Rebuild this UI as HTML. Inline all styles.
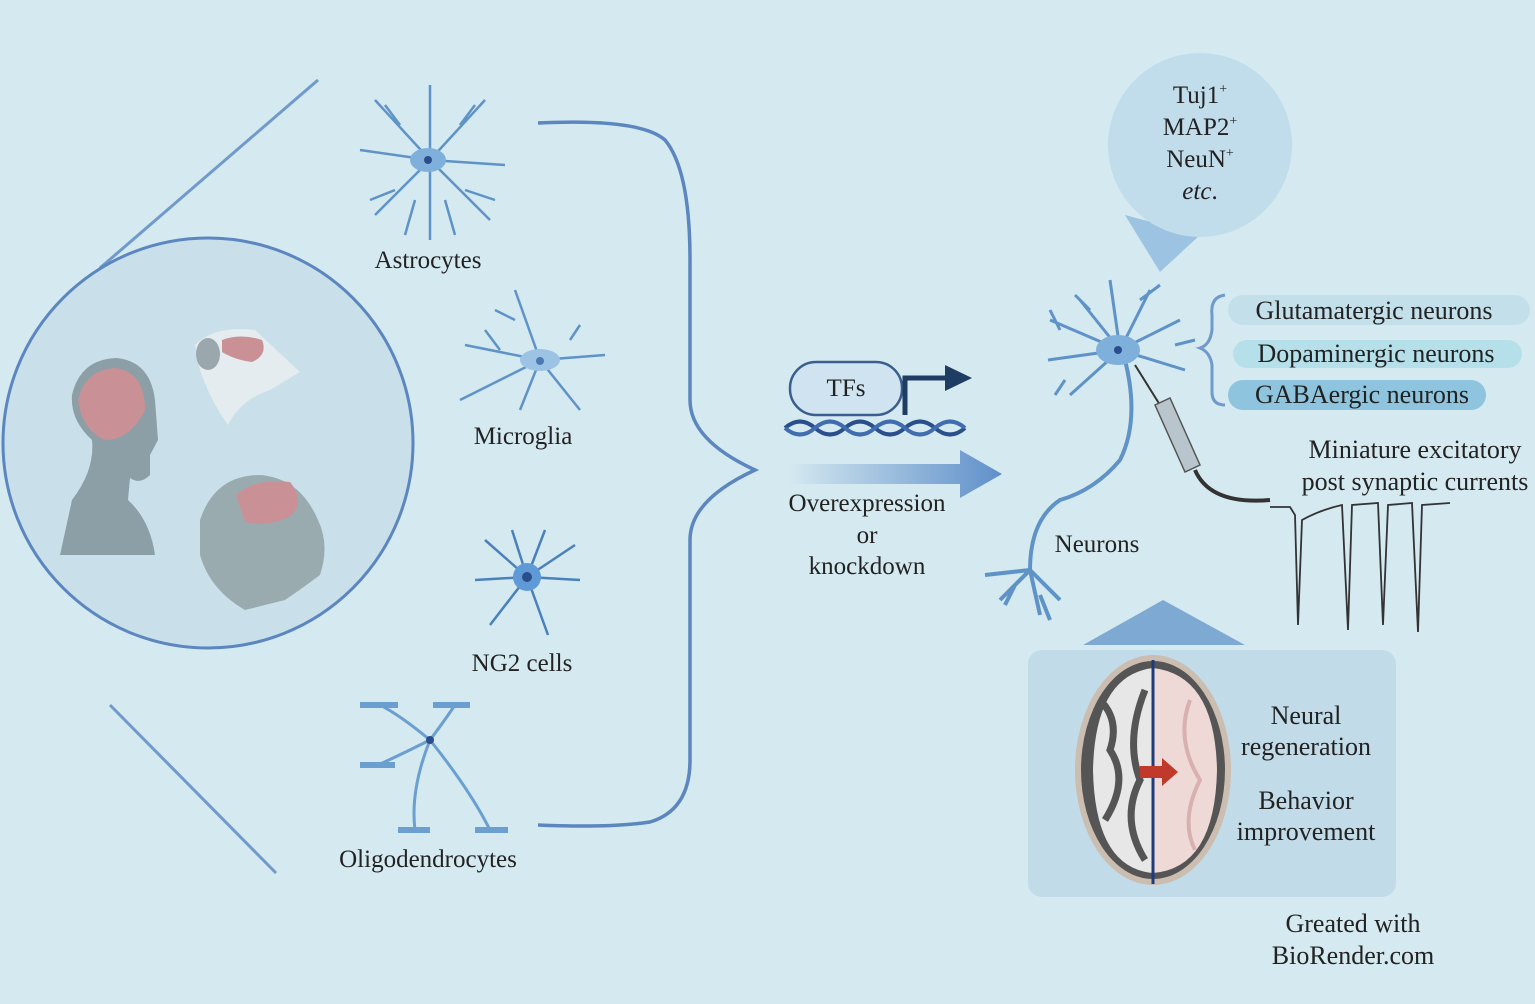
<!DOCTYPE html>
<html><head><meta charset="utf-8"><style>
html,body{margin:0;padding:0;background:#d5e9f0;}
svg{display:block;}
text{font-family:"Liberation Serif",serif;fill:#222;}
</style></head><body>
<svg width="1535" height="1004" viewBox="0 0 1535 1004" xmlns="http://www.w3.org/2000/svg">
<defs>
<linearGradient id="ar" x1="0" x2="1"><stop offset="0" stop-color="#d5e9f0"/><stop offset="1" stop-color="#5f8fca"/></linearGradient>
</defs>
<rect width="1535" height="1004" fill="#d5e9f0"/>
<line x1="318" y1="80" x2="100" y2="268" stroke="#6f9acb" stroke-width="3"/>
<line x1="110" y1="705" x2="276" y2="873" stroke="#6f9acb" stroke-width="3"/>
<circle cx="208" cy="443" r="205" fill="#c9e0ea" stroke="#5b86bf" stroke-width="3"/>
<!-- human -->
<path d="M60 555 L72 500 Q95 470 92 440 Q70 420 72 395 Q80 360 115 358 Q150 360 155 400 L158 440 L150 455 L150 475 Q140 485 130 478 L128 500 Q150 520 155 555 Z" fill="#8c9fa6"/>
<path d="M78 400 Q85 370 115 368 Q145 372 145 410 Q130 440 105 440 Q82 430 78 400Z" fill="#c99196"/>
<!-- rat -->
<path d="M195 345 Q215 325 255 330 L300 372 L270 390 Q240 400 228 425 Q210 400 200 370Z" fill="#e4ecef"/>
<ellipse cx="208" cy="354" rx="12" ry="16" fill="#9aa8ad"/>
<path d="M222 340 Q240 333 262 340 Q268 355 252 362 Q235 360 222 352Z" fill="#c99196"/>
<!-- monkey -->
<path d="M200 520 Q215 475 260 475 Q300 478 318 520 Q330 545 320 575 Q300 590 285 600 L245 610 Q210 590 200 555Z" fill="#9aabb0"/>
<path d="M236 495 Q255 478 290 482 Q305 500 292 515 Q270 528 245 522Z" fill="#c99196"/>
<!-- brace -->
<path d="M538 123 Q640 118 665 140 Q690 170 690 260 L690 400 Q690 440 755 470 Q690 500 690 540 L690 760 Q690 810 650 822 Q610 828 538 825" fill="none" stroke="#5b86bf" stroke-width="3.5"/>
<!-- astrocyte -->
<g stroke="#5f93c7" stroke-width="2.5" fill="none">
<path d="M430 160 L375 100 M430 160 L430 85 M430 160 L485 100 M430 160 L360 150 M430 160 L505 165 M430 160 L375 215 M430 160 L430 240 M430 160 L490 220 M400 125 L385 105 M460 125 L475 105 M395 190 L370 200 M465 190 L495 200 M415 200 L405 235 M445 200 L455 235"/>
</g>
<ellipse cx="428" cy="160" rx="18" ry="12" fill="#7fb0dc"/><circle cx="428" cy="160" r="4" fill="#2b4d8c"/>
<text x="428" y="268" font-size="25" text-anchor="middle">Astrocytes</text>
<!-- microglia -->
<g stroke="#5f93c7" stroke-width="2.5" fill="none">
<path d="M540 360 L515 290 M540 360 L465 345 M540 360 L460 400 M540 360 L605 355 M540 360 L580 410 M540 360 L520 410 M515 320 L495 310 M500 350 L485 330 M570 340 L580 325"/>
</g>
<ellipse cx="540" cy="360" rx="20" ry="11" fill="#9cc3e4"/><circle cx="540" cy="361" r="4" fill="#4a7ab0"/>
<text x="523" y="444" font-size="25" text-anchor="middle">Microglia</text>
<!-- NG2 -->
<g stroke="#4a80bc" stroke-width="2.5" fill="none">
<path d="M527 577 L485 540 M527 577 L512 530 M527 577 L545 530 M527 577 L575 545 M527 577 L580 580 M527 577 L548 635 M527 577 L490 625 M527 577 L475 580"/>
</g>
<circle cx="527" cy="577" r="14" fill="#5f9ad6"/><circle cx="527" cy="577" r="5" fill="#2b4d8c"/>
<text x="522" y="671" font-size="25" text-anchor="middle">NG2 cells</text>
<!-- oligodendrocyte -->
<g stroke="#6a9fd0" stroke-width="3" fill="none">
<path d="M430 740 Q400 715 380 705 M430 740 Q445 720 455 705 M430 740 Q400 755 378 765 M430 740 Q410 790 415 830 M430 740 Q470 790 490 830"/>
<path d="M360 705 L398 705 M433 705 L470 705 M360 765 L395 765 M398 830 L430 830 M475 830 L508 830" stroke-width="6"/>
</g>
<circle cx="430" cy="740" r="4" fill="#2b4d8c"/>
<text x="428" y="867" font-size="25" text-anchor="middle">Oligodendrocytes</text>
<!-- TFs -->
<rect x="790" y="362" width="112" height="53" rx="26" fill="#cfe4f0" stroke="#3a5f8f" stroke-width="2.5"/>
<text x="846" y="396" font-size="25" text-anchor="middle">TFs</text>
<path d="M905 415 L905 378 L950 378" fill="none" stroke="#1f3c63" stroke-width="5"/>
<path d="M945 365 L972 378 L945 391Z" fill="#1f3c63"/>
<path d="M785 428 Q800 415 815 428 T845 428 T875 428 T905 428 T935 428 T965 428" fill="none" stroke="#2a4f8c" stroke-width="4"/>
<path d="M785 428 Q800 441 815 428 T845 428 T875 428 T905 428 T935 428 T965 428" fill="none" stroke="#3f6db0" stroke-width="4"/>
<path d="M788 464 L960 464 L960 450 L1002 474 L960 498 L960 484 L788 484Z" fill="url(#ar)"/>
<text x="867" y="511" font-size="25" text-anchor="middle">Overexpression</text>
<text x="867" y="543" font-size="25" text-anchor="middle">or</text>
<text x="867" y="574" font-size="25" text-anchor="middle">knockdown</text>
<!-- bubble -->
<path d="M1125 215 L1200 235 L1160 272Z" fill="#9cc3e1"/>
<circle cx="1200" cy="145" r="92" fill="#c1dcea"/>
<text x="1200" y="103" font-size="25" text-anchor="middle">Tuj1<tspan font-size="14" dy="-10">+</tspan></text>
<text x="1200" y="135" font-size="25" text-anchor="middle">MAP2<tspan font-size="14" dy="-10">+</tspan></text>
<text x="1200" y="167" font-size="25" text-anchor="middle">NeuN<tspan font-size="14" dy="-10">+</tspan></text>
<text x="1200" y="199" font-size="25" text-anchor="middle" font-style="italic">etc<tspan font-style="normal">.</tspan></text>
<!-- neuron -->
<g stroke="#5f93c7" stroke-width="3" fill="none">
<path d="M1120 350 L1080 300 M1120 350 L1050 320 M1120 350 L1048 360 M1120 350 L1070 395 M1120 350 L1110 280 M1120 350 L1150 290 M1120 350 L1180 320 M1120 350 L1185 370 M1090 310 L1075 295 M1140 300 L1160 285 M1060 330 L1050 310 M1065 380 L1055 395 M1175 345 L1195 340"/>
<path d="M1125 360 Q1140 420 1120 460 Q1095 490 1060 500 Q1030 520 1030 570 L1000 600 M1030 570 L985 575 M1030 570 L1040 615 M1030 570 L1060 600 M1015 585 L1005 605 M1040 595 L1050 620" stroke-width="4"/>
</g>
<ellipse cx="1118" cy="350" rx="22" ry="15" fill="#7fb0dc"/><circle cx="1118" cy="350" r="4" fill="#2b4d8c"/>
<text x="1097" y="552" font-size="25" text-anchor="middle">Neurons</text>
<!-- electrode -->
<line x1="1135" y1="365" x2="1160" y2="405" stroke="#333" stroke-width="2"/>
<path d="M1155 405 L1170 398 L1200 465 L1185 472Z" fill="#b9c5cc" stroke="#555" stroke-width="1.5"/>
<path d="M1195 470 Q1210 505 1270 500" fill="none" stroke="#333" stroke-width="4"/>
<path d="M1225 295 Q1210 297 1212 315 L1212 330 Q1210 345 1200 348 Q1210 352 1212 365 L1212 392 Q1212 405 1225 405" fill="none" stroke="#6f9acb" stroke-width="3"/>
<rect x="1228" y="295" width="302" height="30" rx="15" fill="#c3dfea"/>
<rect x="1233" y="340" width="289" height="28" rx="14" fill="#b5e0ea"/>
<rect x="1228" y="380" width="258" height="30" rx="15" fill="#8ec4de"/>
<text x="1374" y="319" font-size="26" text-anchor="middle">Glutamatergic neurons</text>
<text x="1376" y="362" font-size="26" text-anchor="middle">Dopaminergic neurons</text>
<text x="1362" y="403" font-size="26" text-anchor="middle">GABAergic neurons</text>
<text x="1415" y="458" font-size="26" text-anchor="middle">Miniature excitatory</text>
<text x="1415" y="490" font-size="26" text-anchor="middle">post synaptic currents</text>
<path d="M1270 507 L1290 507 L1295 515 L1298 625 L1302 520 Q1320 510 1342 505 L1348 630 L1352 505 L1378 503 L1383 625 L1388 505 L1412 503 L1418 632 L1422 505 L1450 503" fill="none" stroke="#333" stroke-width="1.8"/>
<!-- triangle & box -->
<path d="M1083 645 L1163 600 L1245 645Z" fill="#7ea9d2"/>
<rect x="1028" y="650" width="368" height="247" rx="14" fill="#c2dbe8"/>
<ellipse cx="1153" cy="770" rx="78" ry="115" fill="#cbbdb0"/>
<ellipse cx="1153" cy="770" rx="72" ry="109" fill="#555"/>
<path d="M1153 668 Q1215 675 1217 770 Q1215 868 1153 873Z" fill="#efd9d7"/>
<path d="M1153 668 Q1095 675 1093 770 Q1095 868 1153 873Z" fill="#e7e7e7"/>
<path d="M1100 700 Q1120 720 1110 750 Q1130 780 1105 820 M1145 690 Q1125 740 1140 780 Q1120 820 1145 860" stroke="#555" stroke-width="7" fill="none"/>
<path d="M1190 700 Q1175 740 1200 780 Q1180 820 1195 850" stroke="#d8b0b0" stroke-width="4" fill="none"/>
<line x1="1153" y1="660" x2="1153" y2="884" stroke="#1f3c7a" stroke-width="3"/>
<path d="M1140 766 L1162 766 L1162 758 L1178 772 L1162 786 L1162 778 L1140 778Z" fill="#c0392b"/>
<text x="1306" y="724" font-size="26" text-anchor="middle">Neural</text>
<text x="1306" y="755" font-size="26" text-anchor="middle">regeneration</text>
<text x="1306" y="809" font-size="26" text-anchor="middle">Behavior</text>
<text x="1306" y="840" font-size="26" text-anchor="middle">improvement</text>
<text x="1353" y="932" font-size="26" text-anchor="middle">Greated with</text>
<text x="1353" y="964" font-size="26" text-anchor="middle">BioRender.com</text>
</svg>
</body></html>
